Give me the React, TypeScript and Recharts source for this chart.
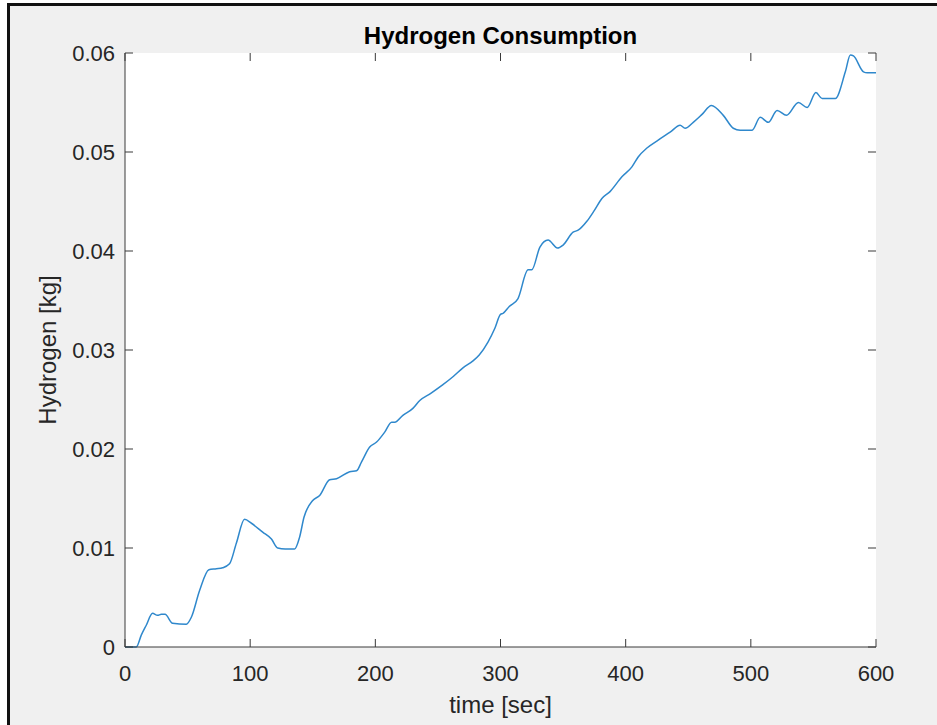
import React from 'react';
import { LineChart, Line, XAxis, YAxis } from 'recharts';

// time [sec] and hydrogen [kg]
const times = [
  0, 9, 13, 17, 22, 26, 29, 32, 38, 49, 53, 59.6, 67, 73, 78, 83.5, 89, 95.5,
  101, 110, 117, 122, 128, 135.5, 139.5, 143, 150, 155.5, 163.5, 169, 179.5,
  185, 189, 195.5, 201, 207.5, 213, 215.5, 222, 230, 235.5, 244, 254, 262, 270,
  278, 283, 290, 295.5, 300, 302, 307, 314, 322, 325, 331.5, 338, 345.5, 350,
  358, 362, 369, 375, 381, 387.5, 397, 405, 410, 417, 426, 435.5, 443.5, 447.5,
  454, 461, 468.5, 478, 486, 491.5, 501, 507.5, 514, 521, 528.5, 538, 545, 552,
  557, 567.5, 575.5, 579.5, 582, 590, 593, 600,
];
const hydrogen = [
  0, 0, 0.0012, 0.0022, 0.0034, 0.0032, 0.0033, 0.0033, 0.0024, 0.0023, 0.003,
  0.0057, 0.0078, 0.0079, 0.008, 0.0084, 0.0105, 0.0129, 0.0125, 0.0116, 0.0109,
  0.01, 0.0099, 0.0099, 0.0111, 0.0131, 0.0148, 0.0153, 0.0169, 0.017, 0.0177,
  0.0178, 0.0187, 0.0202, 0.0207, 0.0217, 0.0227, 0.0227, 0.0234, 0.0241,
  0.0249, 0.0256, 0.0265, 0.0273, 0.0282, 0.0289, 0.0295, 0.0308, 0.0322,
  0.0336, 0.0337, 0.0344, 0.0352, 0.0381, 0.0381, 0.0404, 0.0411, 0.0403,
  0.0406, 0.0419, 0.0421, 0.043, 0.0441, 0.0453, 0.046, 0.0475, 0.0485, 0.0495,
  0.0504, 0.0512, 0.052, 0.0527, 0.0524, 0.053, 0.0538, 0.0547, 0.0537, 0.0524,
  0.0522, 0.0522, 0.0535, 0.053, 0.0542, 0.0537, 0.055, 0.0545, 0.056, 0.0554,
  0.0554, 0.0581, 0.0598, 0.0597, 0.0581, 0.058, 0.058,
];
const xTicks = [0, 100, 200, 300, 400, 500, 600];
const yTicks = [0, 0.01, 0.02, 0.03, 0.04, 0.05, 0.06];

const data = times.map((t, i) => ({ t, h: hydrogen[i] }));

const font = 'Arial, "Liberation Sans", Helvetica, sans-serif';
const axisColor = '#3a3a3a';
const textColor = '#262626';
const TICK = 8;
// plot box size (chart margins below), used to mirror ticks onto the far edges
const PLOT_W = 751;
const PLOT_H = 594;

// MATLAB-style ticks: short marks pointing into the box, on both opposite edges
const BottomTick = (props: any) => {
  const x = Number(props.x);
  const y = Number(props.y);
  return (
    <g>
      <rect x={x - 0.5} y={y - TICK} width={1} height={TICK} fill={axisColor} />
      <rect x={x - 0.5} y={y - PLOT_H} width={1} height={TICK} fill={axisColor} />
      <text x={x} y={y + 34} textAnchor="middle" fill={textColor} fontSize={22} fontFamily={font}>
        {props.payload.value}
      </text>
    </g>
  );
};

const LeftTick = (props: any) => {
  const x = Number(props.x);
  const y = Number(props.y);
  const v = props.payload.value as number;
  return (
    <g>
      <rect x={x} y={y - 0.5} width={TICK} height={1} fill={axisColor} />
      <rect x={x + PLOT_W - TICK} y={y - 0.5} width={TICK} height={1} fill={axisColor} />
      <text x={x - 10} y={y + 8} textAnchor="end" fill={textColor} fontSize={22} fontFamily={font}>
        {v === 0 ? '0' : v.toFixed(2)}
      </text>
    </g>
  );
};

const App = () => {
  return (
    <div
      style={{
        position: 'absolute',
        left: 0,
        top: 0,
        width: 937,
        height: 725,
        background: '#fff',
        overflow: 'hidden',
        fontFamily: font,
      }}
    >
      <div
        style={{
          position: 'absolute',
          left: 7,
          top: 3,
          width: 940,
          height: 730,
          background: '#f0f0f0',
          borderTop: '3px solid #111',
          borderLeft: '3px solid #111',
        }}
      />
      <div
        style={{
          position: 'absolute',
          left: 125,
          top: 53,
          width: PLOT_W,
          height: PLOT_H,
          background: '#fff',
        }}
      />
      <div
        style={{
          position: 'absolute',
          left: 125,
          width: PLOT_W,
          top: 23,
          textAlign: 'center',
          fontSize: 24,
          lineHeight: '26px',
          fontWeight: 'bold',
          color: '#000',
        }}
      >
        Hydrogen Consumption
      </div>
      <div style={{ position: 'absolute', left: 0, top: 0 }}>
        <LineChart
          width={937}
          height={725}
          data={data}
          margin={{ top: 53, right: 61, left: 0, bottom: 0 }}
        >
          <XAxis
            dataKey="t"
            type="number"
            domain={[0, 600]}
            ticks={xTicks}
            interval={0}
            height={78}
            tickSize={0}
            tickMargin={0}
            tickLine={false}
            stroke={axisColor}
            tick={(p: any) => <BottomTick {...p} />}
            label={{
              value: 'time [sec]',
              position: 'center',
              dy: 18,
              fill: textColor,
              fontSize: 24,
              fontFamily: font,
            }}
          />
          <XAxis
            xAxisId="top"
            dataKey="t"
            type="number"
            orientation="top"
            domain={[0, 600]}
            height={0}
            tick={false}
            tickLine={false}
            stroke={axisColor}
          />
          <YAxis
            type="number"
            domain={[0, 0.06]}
            ticks={yTicks}
            interval={0}
            width={125}
            tickSize={0}
            tickMargin={0}
            tickLine={false}
            stroke={axisColor}
            tick={(p: any) => <LeftTick {...p} />}
            label={{
              value: 'Hydrogen [kg]',
              angle: -90,
              position: 'center',
              dx: -15,
              fill: textColor,
              fontSize: 24,
              fontFamily: font,
            }}
          />
          <YAxis
            yAxisId="right"
            orientation="right"
            type="number"
            domain={[0, 0.06]}
            width={0}
            tick={false}
            tickLine={false}
            stroke={axisColor}
          />
          <Line
            type="monotone"
            dataKey="h"
            stroke="#2f88cc"
            strokeWidth={1.5}
            dot={false}
            isAnimationActive={false}
          />
        </LineChart>
      </div>
    </div>
  );
};

export default App;
